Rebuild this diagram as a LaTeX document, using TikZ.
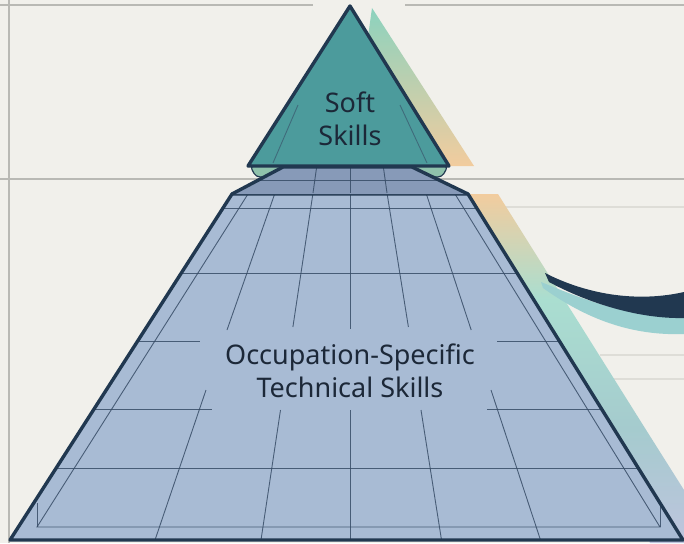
\documentclass[tikz,border=0pt]{standalone}
\usepackage{fontspec}
\setmainfont{Noto Sans}
\definecolor{bgc}{RGB}{241,240,235}
\definecolor{navy}{RGB}{33,56,80}
\definecolor{softteal}{RGB}{76,155,156}
\definecolor{sage}{RGB}{143,194,172}
\definecolor{bandc}{RGB}{135,154,184}
\definecolor{mainc}{RGB}{168,187,212}
\definecolor{gridc}{RGB}{55,76,102}
\definecolor{bgline}{RGB}{185,185,180}
\definecolor{faintline}{RGB}{222,221,215}
\definecolor{txt}{RGB}{28,40,56}
\definecolor{shteal}{RGB}{140,210,190}
\definecolor{shmint}{RGB}{170,222,208}
\definecolor{shorange}{RGB}{242,204,158}
\definecolor{shlav}{RGB}{190,196,222}
\definecolor{ribbon}{RGB}{155,208,208}
\begin{document}
\begin{tikzpicture}[x=1pt,y=-1pt,
  bgrule/.style={draw=bgline, line width=1.6pt},
  faint/.style={draw=faintline, line width=1.2pt},
  gridln/.style={draw=gridc, line width=0.9pt, opacity=0.85},
  outline/.style={draw=navy, line width=3.4pt, line join=round},
  label/.style={text=txt, font=\fontsize{27}{33}\selectfont, align=center, inner sep=0pt}]
\fill[bgc] (0,0) rectangle (684,543);
\useasboundingbox (0,0) rectangle (684,543);
% background rules
\draw[bgrule] (0,5) -- (313,5);
\draw[bgrule] (405,5) -- (684,5);
\draw[bgrule] (9,0) -- (9,543);
\draw[bgrule] (0,179) -- (684,179);
\draw[faint] (480,207) -- (684,207);
\draw[faint] (600,355) -- (684,355);
\draw[faint] (610,379) -- (684,379);
% shadows
\shade[top color=shteal, bottom color=shorange] (372,8) -- (474,166) -- (350,166) -- cycle;
\shade[top color=shorange, bottom color=shmint] (466,194) -- (498,194) -- (563.9,299) -- (530,299) -- cycle;
\shade[top color=shmint, bottom color=shteal!50!shlav] (530,299) -- (563.9,299) -- (645.5,429) -- (610,429) -- cycle;
\shade[top color=shteal!50!shlav, bottom color=shlav] (610,429) -- (645.5,429) -- (684,490) -- (684,543) -- (650,543) -- cycle;
% swoosh
\fill[ribbon] (541,282) .. controls (585,300) and (630,318) .. (684,316) -- (684,334) .. controls (630,336) and (585,318) .. (543,288) -- cycle;
\fill[navy] (545,273) .. controls (590,296) and (640,302) .. (684,292) -- (684,318) .. controls (640,319) and (590,304) .. (549,282) -- cycle;
% main trapezoid
\fill[mainc] (232,194) -- (468,194) -- (683,540) -- (10,540) -- cycle;
% horizontal grid
\draw[gridln] (223,208) -- (476.7,208);
\draw[gridln] (181.3,273) -- (517.1,273);
\draw[gridln] (137.7,341) -- (200,341);
\draw[gridln] (497,341) -- (559.3,341);
\draw[gridln] (94,409) -- (212,409);
\draw[gridln] (487,409) -- (601.6,409);
\draw[gridln] (56.2,468) -- (638.3,468);
% inner border
\draw[gridln] (248,194) -- (37,527) -- (660,527) -- (455,194);
\draw[gridln] (37,527) -- (37,503);
\draw[gridln] (660,527) -- (660,502);
% converging grid
\draw[gridln] (275,193) -- (227,330);
\draw[gridln] (206,390) -- (155,540);
\draw[gridln] (313,193) -- (292.9,327);
\draw[gridln] (280.5,410) -- (261,540);
\draw[gridln] (350,193) -- (350,329);
\draw[gridln] (350,410) -- (350,540);
\draw[gridln] (387,193) -- (408.4,327);
\draw[gridln] (421,410) -- (441.5,540);
\draw[gridln] (426,193) -- (471.2,330);
\draw[gridln] (491,390) -- (540.5,540);
\draw[outline] (232,194) -- (468,194) -- (683,540) -- (10,540) -- cycle;
% cap under triangle
\filldraw[fill=sage, draw=navy, line width=1.2pt, rounded corners=4pt] (250,166) -- (448,166) -- (442,177) -- (256,177) -- cycle;
% band
\fill[bandc] (283,167) -- (412,167) -- (468,194) -- (232,194) -- cycle;
\draw[gridln] (258.5,180) -- (438.9,180);
\draw[gridln] (316.5,168) -- (313,193);
\draw[gridln] (350,168) -- (350,193);
\draw[gridln] (383.5,168) -- (387,193);
\draw[outline] (232,194) -- (283,167) -- (412,167) -- (468,194);
% top triangle
\filldraw[outline, fill=softteal] (350,6) -- (449,166) -- (248,166) -- cycle;
\draw[gridln, opacity=0.6] (298,105) -- (273,163);
\draw[gridln, opacity=0.6] (400,105) -- (427,163);
% labels
\node[label] (soft) at (350,119) {Soft\\Skills};
\node[label] (tech) at (350,371) {Occupation-Specific\\Technical Skills};
\end{tikzpicture}
\end{document}
